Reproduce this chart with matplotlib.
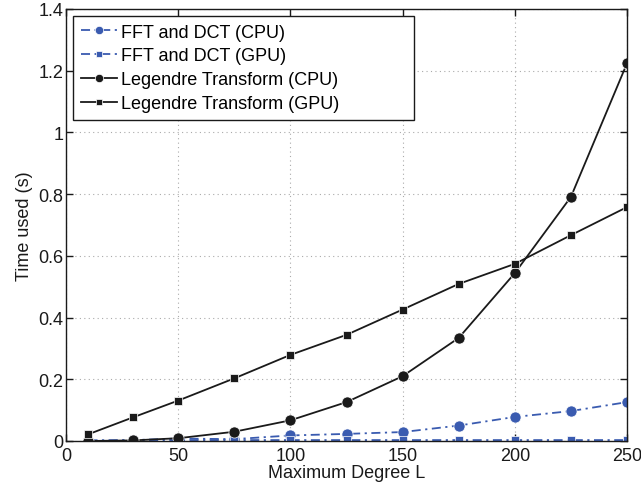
import matplotlib
matplotlib.use("Agg")
import matplotlib.pyplot as plt
from matplotlib.ticker import FixedLocator, FixedFormatter

plt.rcParams['font.family'] = ['Liberation Sans', 'DejaVu Sans']

L = [10, 30, 50, 75, 100, 125, 150, 175, 200, 225, 250]
fft_cpu = [0.001, 0.003, 0.008, 0.006, 0.018, 0.023, 0.029, 0.050, 0.078, 0.097, 0.126]
fft_gpu = [0.002, 0.002, 0.003, 0.003, 0.003, 0.003, 0.003, 0.003, 0.003, 0.003, 0.003]
leg_cpu = [0.000, 0.002, 0.009, 0.030, 0.067, 0.126, 0.210, 0.334, 0.544, 0.791, 1.224]
leg_gpu = [0.022, 0.077, 0.131, 0.203, 0.279, 0.344, 0.426, 0.509, 0.574, 0.667, 0.758]

labels = ['FFT and DCT (CPU)', 'FFT and DCT (GPU)',
          'Legendre Transform (CPU)', 'Legendre Transform (GPU)']
xticks = [0, 50, 100, 150, 200, 250]
yticks = [0, 0.2, 0.4, 0.6, 0.8, 1.0, 1.2, 1.4]
yticklabels = ['0', '0.2', '0.4', '0.6', '0.8', '1', '1.2', '1.4']

blue = '#3a5bb0'
black = '#1a1a1a'
fs = 13

fig = plt.figure(figsize=(6.41, 4.85), dpi=100)
ax = fig.add_axes([66/641, 1 - 442/485, (627-66)/641, (442-10)/485])

lw = 1.3
dashdot = (0, (5, 2.5, 1.2, 2.5))
ax.plot(L, fft_cpu, color=blue, linestyle=dashdot, linewidth=lw,
        marker='o', markersize=8, markeredgecolor='white', markeredgewidth=0.5,
        label=labels[0])
ax.plot(L, fft_gpu, color=blue, linestyle=dashdot, linewidth=lw,
        marker='s', markersize=6, markeredgecolor='white', markeredgewidth=0.5,
        label=labels[1])
ax.plot(L, leg_cpu, color=black, linestyle='-', linewidth=lw,
        marker='o', markersize=8, markeredgecolor='white', markeredgewidth=0.5,
        label=labels[2])
ax.plot(L, leg_gpu, color=black, linestyle='-', linewidth=lw,
        marker='s', markersize=6, markeredgecolor='white', markeredgewidth=0.5,
        label=labels[3])

ax.set_xlim(0, 250)
ax.set_ylim(0, 1.4)
ax.xaxis.set_major_locator(FixedLocator(xticks))
ax.yaxis.set_major_locator(FixedLocator(yticks))
ax.yaxis.set_major_formatter(FixedFormatter(yticklabels))
ax.tick_params(direction='in', top=True, right=True, labelsize=fs,
               length=5, width=1, colors=black)
ax.tick_params(axis='x', pad=4)
ax.tick_params(axis='y', pad=2)
ax.grid(True, linestyle=(0, (1, 3)), color='#aaaaaa', linewidth=0.8)
for s in ax.spines.values():
    s.set_linewidth(1.0)
    s.set_color(black)

ax.set_xlabel('Maximum Degree L', fontsize=fs, color=black, labelpad=0)
ax.set_ylabel('Time used (s)', fontsize=fs, color=black, labelpad=4)

x0 = (73 - 66) / 561
w = (414 - 73) / 561
top = (442 - 16.5) / 432
leg = ax.legend(loc='upper left', bbox_to_anchor=(x0, top - 0.3, w, 0.3),
                mode='expand', borderaxespad=0,
                fontsize=fs, frameon=True, fancybox=False,
                edgecolor=black, framealpha=1, handlelength=2.0,
                handletextpad=0.2, borderpad=0.45, labelspacing=0.38,
                markerscale=0.75)
leg.get_frame().set_linewidth(1.0)

fig.savefig('out.png', dpi=100)
